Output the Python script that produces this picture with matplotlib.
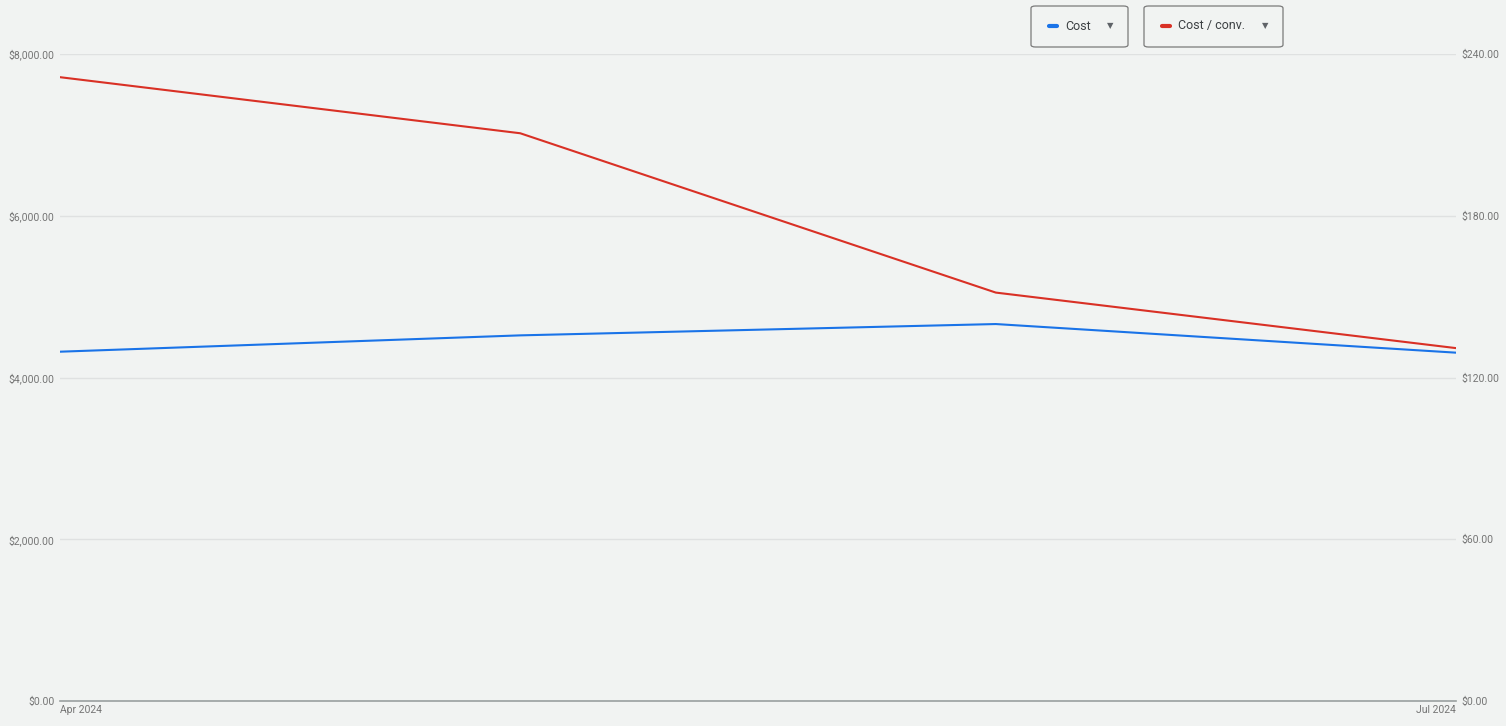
import datetime as dt

import matplotlib
matplotlib.use("Agg")
import matplotlib.pyplot as plt
import matplotlib.dates as mdates
from matplotlib.patches import FancyBboxPatch
from matplotlib.ticker import FuncFormatter

# Monthly points
months = [dt.date(2024, 4, 1), dt.date(2024, 5, 1), dt.date(2024, 6, 1), dt.date(2024, 7, 1)]
cost = [4319, 4521, 4661, 4307]
cost_per_conv = [231.4, 210.6, 151.5, 130.9]

left_ticks = [0, 2000, 4000, 6000, 8000]
right_ticks = [0, 60, 120, 180, 240]

BG = "#f1f3f2"
BLUE = "#1a73e8"
RED = "#d93025"
TXT = "#757575"
GRID = "#dfe1e1"

plt.rcParams["font.family"] = ["Roboto", "DejaVu Sans"]

W, H = 1506, 726
fig = plt.figure(figsize=(W / 100, H / 100), dpi=100, facecolor=BG)
ax = fig.add_axes([60 / W, 25 / H, (1456 - 60) / W, (701 - 54) / H])
ax.set_facecolor(BG)

ax.plot(months, cost, color=BLUE, lw=1.5, zorder=3)
ax.set_ylim(0, 8000)
ax.set_xlim(months[0], months[-1])
ax.set_yticks(left_ticks)
ax.yaxis.set_major_formatter(FuncFormatter(lambda v, _: f"${v:,.2f}"))
ax.grid(axis="y", color=GRID, lw=1)
ax.set_axisbelow(True)

ax2 = ax.twinx()
ax2.plot(months, cost_per_conv, color=RED, lw=1.5, zorder=3)
ax2.set_ylim(0, 240)
ax2.set_yticks(right_ticks)
ax2.yaxis.set_major_formatter(FuncFormatter(lambda v, _: f"${v:,.2f}"))

for a in (ax, ax2):
    for s in a.spines.values():
        s.set_visible(False)
    a.tick_params(axis="y", length=0, labelsize=7.5, labelcolor=TXT, pad=4)
ax.spines["bottom"].set_visible(True)
ax.spines["bottom"].set_color("#9aa0a0")
ax.spines["bottom"].set_linewidth(1.2)

ax.set_xticks([months[0], months[-1]])
ax.xaxis.set_major_formatter(mdates.DateFormatter("%b %Y"))
ax.tick_params(axis="x", length=0, labelsize=7.5, labelcolor=TXT, pad=3)
xl = ax.get_xticklabels()
xl[0].set_ha("left")
xl[1].set_ha("right")

# Legend chips at the top
def chip(x0, x1, label, color):
    y0, y1 = 6, 47
    box = FancyBboxPatch((x0 / W, 1 - y1 / H), (x1 - x0) / W, (y1 - y0) / H,
                         boxstyle="round,pad=0,rounding_size=0.003",
                         transform=fig.transFigure, facecolor=BG,
                         edgecolor="#7a7a7a", lw=0.9)
    fig.add_artist(box)
    yc = 1 - 26 / H
    fig.add_artist(plt.Line2D([(x0 + 18) / W, (x0 + 26) / W], [yc, yc],
                              transform=fig.transFigure, color=color, lw=3,
                              solid_capstyle="round"))
    fig.text((x0 + 34) / W, yc, label, ha="left", va="center", fontsize=9,
             color="#3c4043")
    fig.text((x1 - 18) / W, yc, "\u25BC", ha="center", va="center", fontsize=6,
             color="#5f6368", family=["DejaVu Sans"])

chip(1031, 1128, "Cost", BLUE)
chip(1144, 1283, "Cost / conv.", RED)

fig.savefig("out.png", dpi=100, facecolor=BG)
